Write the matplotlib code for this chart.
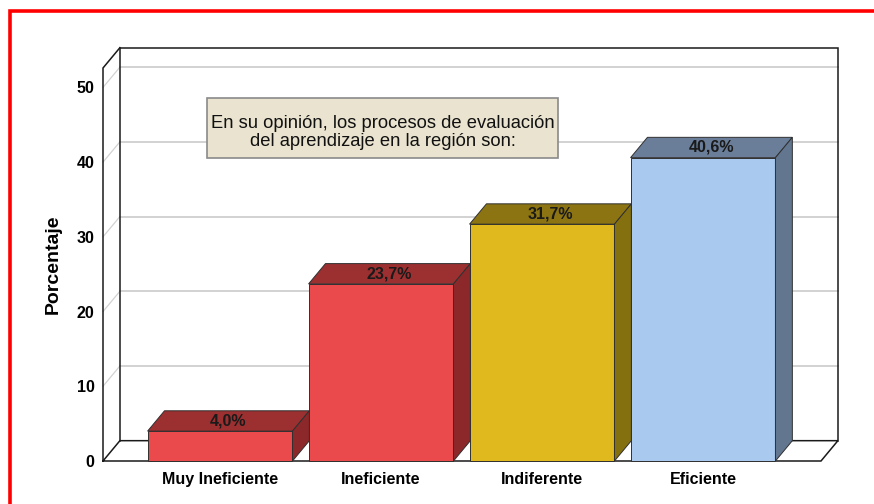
import matplotlib
matplotlib.use("Agg")
import matplotlib.pyplot as plt
from matplotlib.patches import Polygon, Rectangle

plt.rcParams["font.family"] = ["Liberation Sans", "DejaVu Sans"]

# ----- Daten -----------------------------------------------------------------
categories = ["Muy Ineficiente", "Ineficiente", "Indiferente", "Eficiente"]
values = [4.0, 23.7, 31.7, 40.6]
y_ticks = [0, 10, 20, 30, 40, 50]
y_label = "Porcentaje"
note = "En su opinión, los procesos de evaluación\ndel aprendizaje en la región son:"

# Farben (Front, Oberseite, Seite)
front_cols = ["#ea4a4c", "#ea4a4c", "#e0b91f", "#a9c9ef"]
top_cols = ["#9c2f30", "#9c2f30", "#8c7412", "#6a7e99"]
side_cols = ["#8c2829", "#8c2829", "#85700f", "#62768f"]

# ----- Geometrie (Pseudo-3D wie SPSS) ----------------------------------------
XMIN, XMAX = -0.727, 3.733
YMAX = 52.6
DX, DY = 0.105, 2.72     # Tiefenversatz
BAR_W = 0.9
EDGE = "#303030"
GRID = "#d2d2d2"

fig = plt.figure(figsize=(8.74, 5.04), dpi=100)
ax = fig.add_axes([103 / 874, 43 / 504, 718 / 874, 393 / 504])
ax.set_xlim(XMIN, XMAX)
ax.set_ylim(0, YMAX)
for s in ax.spines.values():
    s.set_visible(False)
ax.patch.set_visible(False)

# Rückwand-Gitterlinien + Diagonalen an der linken Wand
for v in y_ticks[1:]:
    ax.plot([XMIN + DX, XMAX + DX], [v + DY, v + DY], color=GRID, lw=1.4,
            zorder=1, clip_on=False)
    ax.plot([XMIN, XMIN + DX], [v, v + DY], color=GRID, lw=0.9,
            zorder=1, clip_on=False)

# Rahmen: Rückwand, linke Wand, Boden
frame = dict(color="#1a1a1a", lw=1.1, zorder=2, clip_on=False,
             solid_joinstyle="miter")
ax.plot([XMIN + DX, XMIN + DX, XMAX + DX, XMAX + DX],
        [DY, YMAX + DY, YMAX + DY, DY], **frame)
ax.plot([XMIN, XMIN, XMIN + DX], [0, YMAX, YMAX + DY], **frame)
ax.plot([XMIN, XMAX, XMAX + DX, XMIN + DX, XMIN], [0, 0, DY, DY, 0], **frame)

# Balken
for i, v in enumerate(values):
    x0, x1 = i - BAR_W / 2, i + BAR_W / 2
    front = Polygon([(x0, 0), (x1, 0), (x1, v), (x0, v)], closed=True,
                    facecolor=front_cols[i], edgecolor=EDGE, lw=0.7, zorder=3,
                    clip_on=False)
    top = Polygon([(x0, v), (x1, v), (x1 + DX, v + DY), (x0 + DX, v + DY)],
                  closed=True, facecolor=top_cols[i], edgecolor=EDGE, lw=0.7,
                  zorder=3, clip_on=False)
    side = Polygon([(x1, 0), (x1 + DX, DY), (x1 + DX, v + DY), (x1, v)],
                   closed=True, facecolor=side_cols[i], edgecolor=EDGE, lw=0.7,
                   zorder=3, clip_on=False)
    for p in (front, top, side):
        ax.add_patch(p)
    lab = f"{v:.1f}".replace(".", ",") + "%"
    ax.text(i + DX / 2, v + DY / 2, lab, ha="center", va="center",
            fontsize=11.5, fontweight="bold", color="#1a1a1a", zorder=4,
            clip_on=False)

# Achsen
ax.set_xticks(range(len(categories)))
ax.set_xticklabels(categories, fontsize=11.5, fontweight="bold")
ax.set_yticks(y_ticks)
ax.set_yticklabels([str(t) for t in y_ticks], fontsize=11.5, fontweight="bold")
ax.tick_params(axis="x", length=0, pad=8)
ax.tick_params(axis="y", length=0, pad=6)
ax.set_ylabel(y_label, fontsize=14, fontweight="bold")
ax.yaxis.set_label_coords(-0.058, 0.5)

# Hinweis-Kasten
ax.add_patch(Rectangle((-0.081, 40.5), 2.18, 8.05, facecolor="#e9e3cf",
                       edgecolor="#8a8a8a", lw=1.2, zorder=5, clip_on=False))
ax.text(1.009, 44.0, note, ha="center", va="center", fontsize=13.2,
        color="#111111", linespacing=1.08, zorder=6)

# roter Rahmen
fig.patches.append(Rectangle((9.5 / 874, -0.1), 1.2, 1.1 - 11.5 / 504,
                             transform=fig.transFigure, fill=False,
                             edgecolor="#ff0000", lw=2.6))

fig.savefig("out.png", dpi=100)
